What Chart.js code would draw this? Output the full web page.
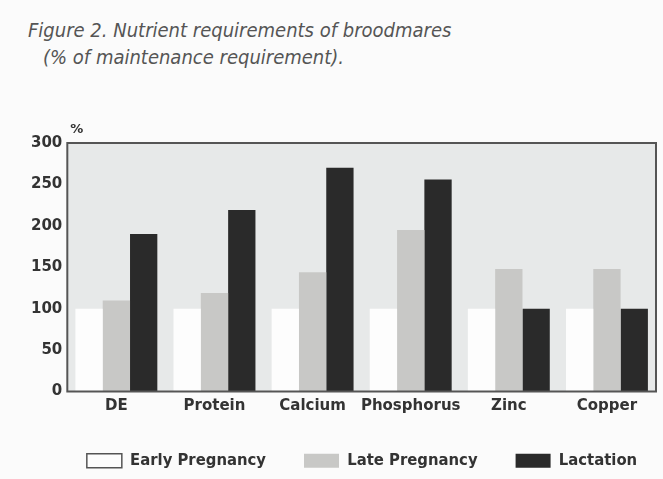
<!DOCTYPE html>
<html>
<head>
<meta charset="utf-8">
<script src="https://cdn.jsdelivr.net/npm/chart.js@4/dist/chart.umd.min.js"></script>
<style>
  body { margin: 0; background: #fbfbfb; }
  #title {
    position: absolute; left: 28px; top: 17px;
    font: italic 20px "DejaVu Sans Condensed", "DejaVu Sans", sans-serif;
    color: #555; line-height: 27px; white-space: nowrap;
  }
  #title span { padding-left: 15px; }
  #wrap { position: absolute; left: 0; top: 0; width: 663px; height: 479px; }
</style>
</head>
<body>
<div id="title">Figure 2. Nutrient requirements of broodmares<br><span>(% of maintenance requirement).</span></div>
<div id="wrap"><canvas id="chart"></canvas></div>
<script>
const categories = ["DE", "Protein", "Calcium", "Phosphorus", "Zinc", "Copper"];
const earlyPregnancy = [100, 100, 100, 100, 100, 100];
const latePregnancy = [110, 119, 144, 195, 148, 148];
const lactation = [190, 219, 270, 256, 100, 100];
const yTicks = [0, 50, 100, 150, 200, 250, 300];

// Plot background + frame + "%" unit label
const plotFrame = {
  id: "plotFrame",
  afterLayout(chart) {
    // legend row sits a bit right of centre and a little higher in the original
    chart.legend.left += 21;
    chart.legend.right += 21;
    chart.legend.top -= 7;
    chart.legend.bottom -= 7;
  },
  beforeDatasetsDraw(chart) {
    const { ctx, chartArea: a } = chart;
    ctx.save();
    ctx.fillStyle = "#e7e9e9";
    ctx.fillRect(a.left, a.top, a.right - a.left, a.bottom - a.top);
    ctx.restore();
  },
  afterDatasetsDraw(chart) {
    const { ctx, chartArea: a } = chart;
    ctx.save();
    ctx.strokeStyle = "#555";
    ctx.lineWidth = 2;
    ctx.strokeRect(a.left, a.top, a.right - a.left, a.bottom - a.top);
    ctx.fillStyle = "#333";
    ctx.font = "bold 13px 'DejaVu Sans'";
    ctx.textAlign = "left";
    ctx.fillText("%", a.left + 3, a.top - 13);
    ctx.restore();
  }
};

const ctx = document.getElementById("chart").getContext("2d");

new Chart(ctx, {
  type: "bar",
  data: {
    labels: categories,
    datasets: [
      { label: "Early Pregnancy", data: earlyPregnancy, backgroundColor: "#fdfdfd" },
      { label: "Late Pregnancy", data: latePregnancy, backgroundColor: "#c8c8c6" },
      { label: "Lactation", data: lactation, backgroundColor: "#2a2a2a" }
    ]
  },
  options: {
    responsive: true,
    maintainAspectRatio: false,
    animation: false,
    layout: { padding: { top: 143, left: 26, right: 7, bottom: -7 } },
    datasets: { bar: { categoryPercentage: 0.835, barPercentage: 1.0, borderWidth: 0 } },
    scales: {
      x: {
        grid: { display: false, drawTicks: false },
        border: { display: false },
        ticks: {
          color: "#333", maxRotation: 0, minRotation: 0, autoSkip: false, padding: 6,
          font: { family: "DejaVu Sans", size: 15, weight: "bold" }
        }
      },
      y: {
        min: 0, max: 300,
        afterBuildTicks(axis) { axis.ticks = yTicks.map(v => ({ value: v })); },
        grid: { display: false, drawTicks: false },
        border: { display: false },
        ticks: { color: "#333", padding: 5, font: { family: "DejaVu Sans", size: 15, weight: "bold" } }
      }
    },
    plugins: {
      tooltip: { enabled: false },
      legend: {
        position: "bottom",
        labels: {
          color: "#333",
          font: { family: "DejaVu Sans Condensed", size: 16.5, weight: "bold" },
          boxWidth: 35, boxHeight: 14, padding: 38,
          generateLabels(chart) {
            return chart.data.datasets.map((ds, i) => ({
              text: ds.label,
              fillStyle: ds.backgroundColor,
              strokeStyle: i === 0 ? "#555" : ds.backgroundColor,
              lineWidth: i === 0 ? 1.5 : 0,
              fontColor: "#333",
              datasetIndex: i
            }));
          }
        }
      }
    }
  },
  plugins: [plotFrame]
});
</script>
</body>
</html>
